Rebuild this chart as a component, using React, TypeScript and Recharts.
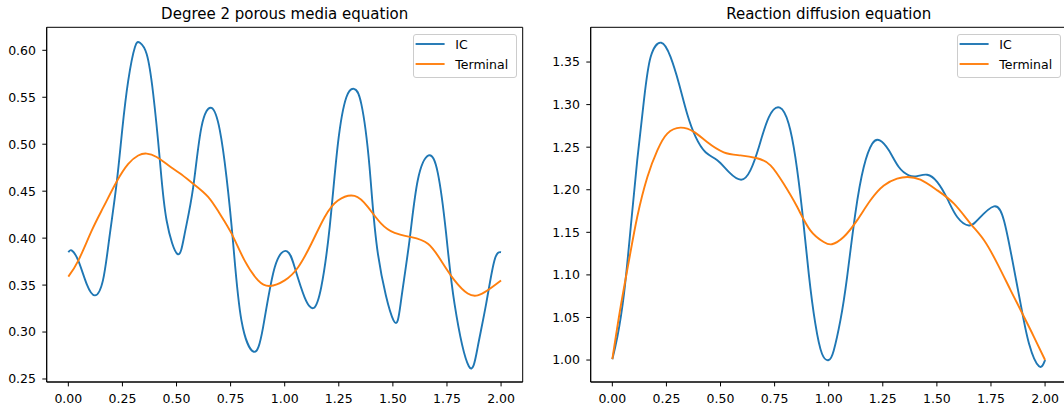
import React from "react";
import { LineChart, Line, XAxis, YAxis, ReferenceArea } from "recharts";

// values, as [x, y]
const POROUS_IC: [number, number][] = [
  [0, 0.385], [0.015, 0.387], [0.046, 0.376], [0.085, 0.351], [0.123, 0.339],
  [0.16, 0.355], [0.19, 0.401], [0.223, 0.458], [0.249, 0.515], [0.277, 0.568],
  [0.308, 0.6035], [0.331, 0.608], [0.362, 0.596], [0.392, 0.554], [0.423, 0.483],
  [0.454, 0.419], [0.505, 0.383], [0.538, 0.405], [0.577, 0.454], [0.615, 0.518],
  [0.662, 0.5386], [0.7, 0.515], [0.731, 0.465], [0.762, 0.394], [0.8, 0.3125],
  [0.857, 0.279], [0.9, 0.305], [0.954, 0.369], [1.011, 0.386], [1.046, 0.369],
  [1.092, 0.337], [1.134, 0.3256], [1.169, 0.348], [1.208, 0.412], [1.246, 0.5006],
  [1.285, 0.55], [1.32, 0.559], [1.354, 0.543], [1.392, 0.476], [1.431, 0.383],
  [1.503, 0.3125], [1.538, 0.334], [1.577, 0.398], [1.615, 0.4616], [1.665, 0.488],
  [1.708, 0.469], [1.746, 0.405], [1.785, 0.33], [1.851, 0.2636], [1.892, 0.284],
  [1.931, 0.33], [1.969, 0.376], [2.0, 0.385],
];

const POROUS_TERMINAL: [number, number][] = [
  [0, 0.359], [0.046, 0.376], [0.108, 0.408], [0.162, 0.433], [0.223, 0.46],
  [0.277, 0.479], [0.323, 0.488], [0.362, 0.49], [0.408, 0.4864], [0.462, 0.4776],
  [0.515, 0.469], [0.577, 0.458], [0.646, 0.444], [0.7, 0.426], [0.754, 0.405],
  [0.815, 0.376], [0.877, 0.355], [0.931, 0.349], [1.0, 0.355], [1.062, 0.369],
  [1.123, 0.394], [1.185, 0.4225], [1.246, 0.44], [1.323, 0.445], [1.385, 0.433],
  [1.446, 0.4154], [1.508, 0.4055], [1.585, 0.401], [1.662, 0.394], [1.723, 0.376],
  [1.785, 0.355], [1.846, 0.341], [1.892, 0.339], [1.938, 0.3445], [2.0, 0.355],
];

const REACTION_IC: [number, number][] = [
  [0, 1.001], [0.023, 1.027], [0.054, 1.078], [0.085, 1.156], [0.115, 1.2346],
  [0.146, 1.305], [0.177, 1.356], [0.226, 1.3727], [0.269, 1.356], [0.308, 1.3245],
  [0.346, 1.289], [0.385, 1.262], [0.431, 1.244], [0.485, 1.2346], [0.538, 1.221],
  [0.595, 1.2118], [0.638, 1.2228], [0.677, 1.25], [0.723, 1.285], [0.774, 1.2964],
  [0.815, 1.2776], [0.846, 1.238], [0.877, 1.176], [0.908, 1.101], [0.938, 1.043],
  [0.969, 1.0074], [1.0, 1.0], [1.023, 1.011], [1.054, 1.0466], [1.085, 1.0975],
  [1.123, 1.172], [1.162, 1.2267], [1.201, 1.254], [1.236, 1.258], [1.278, 1.2463],
  [1.324, 1.2267], [1.37, 1.217], [1.409, 1.216], [1.455, 1.2176], [1.502, 1.209],
  [1.548, 1.1895], [1.594, 1.168], [1.648, 1.158], [1.694, 1.166], [1.764, 1.1805],
  [1.81, 1.164], [1.849, 1.117], [1.887, 1.066], [1.926, 1.019], [1.972, 0.9926],
  [2.0, 1.0],
];

const REACTION_TERMINAL: [number, number][] = [
  [0, 1.001], [0.038, 1.062], [0.077, 1.117], [0.115, 1.168], [0.162, 1.215],
  [0.208, 1.2463], [0.254, 1.266], [0.315, 1.273], [0.377, 1.268], [0.438, 1.256],
  [0.515, 1.244], [0.592, 1.2404], [0.669, 1.237], [0.731, 1.2287], [0.792, 1.207],
  [0.854, 1.18], [0.915, 1.1523], [0.977, 1.1386], [1.015, 1.136], [1.069, 1.1445],
  [1.131, 1.164], [1.193, 1.1876], [1.255, 1.205], [1.316, 1.213], [1.363, 1.215],
  [1.424, 1.2118], [1.502, 1.1993], [1.579, 1.1836], [1.656, 1.16], [1.718, 1.1406],
  [1.78, 1.113], [1.841, 1.0819], [1.903, 1.0505], [1.949, 1.027], [2.0, 1.0],
];

const X_TICKS = [0, 0.25, 0.5, 0.75, 1, 1.25, 1.5, 1.75, 2];
const POROUS_Y_TICKS = [0.25, 0.3, 0.35, 0.4, 0.45, 0.5, 0.55, 0.6];
const REACTION_Y_TICKS = [1.0, 1.05, 1.1, 1.15, 1.2, 1.25, 1.3, 1.35];

const BLUE = "#1f77b4";
const ORANGE = "#ff7f0e";
const FONT = "'DejaVu Sans', sans-serif";

const toPoints = (pts: [number, number][]) => pts.map(([x, y]) => ({ x, y }));

interface PanelProps {
  left: number;
  title: string;
  ic: [number, number][];
  terminal: [number, number][];
  yDomain: [number, number];
  yTicks: number[];
}

const W = 532;
const H = 410;
const M_TOP = 27.3;
const M_RIGHT = 9.3;
const Y_W = 46.7;
const X_H = 28;

function Panel({ left, title, ic, terminal, yDomain, yTicks }: PanelProps) {
  const plotCenter = Y_W + (W - Y_W - M_RIGHT) / 2;
  const tick = { fontSize: 12.5, fill: "#000", fontFamily: FONT };
  return (
    <div style={{ position: "absolute", left, top: 0, width: W, height: H }}>
      <LineChart
        width={W}
        height={H}
        margin={{ top: M_TOP, right: M_RIGHT, bottom: 0, left: 0 }}
      >
        <XAxis
          dataKey="x"
          type="number"
          domain={[-0.1, 2.1]}
          ticks={X_TICKS}
          interval={0}
          allowDataOverflow
          height={X_H}
          tickSize={4.4}
          tickMargin={8}
          tick={tick}
          tickFormatter={(v: number) => v.toFixed(2)}
          stroke="#000"
        />
        <YAxis
          type="number"
          domain={yDomain}
          ticks={yTicks}
          interval={0}
          allowDataOverflow
          width={Y_W}
          tickSize={4.4}
          tickMargin={6.3}
          tick={tick}
          tickFormatter={(v: number) => v.toFixed(2)}
          stroke="#000"
        />
        <ReferenceArea
          x1={-0.1}
          x2={2.1}
          y1={yDomain[0]}
          y2={yDomain[1]}
          fill="none"
          stroke="#000"
          strokeWidth={1}
          ifOverflow="visible"
        />
        <Line
          data={toPoints(ic)}
          dataKey="y"
          type="natural"
          stroke={BLUE}
          strokeWidth={1.9}
          dot={false}
          activeDot={false}
          isAnimationActive={false}
        />
        <Line
          data={toPoints(terminal)}
          dataKey="y"
          type="natural"
          stroke={ORANGE}
          strokeWidth={1.9}
          dot={false}
          activeDot={false}
          isAnimationActive={false}
        />
      </LineChart>
      <svg
        width={W}
        height={30}
        style={{ position: "absolute", left: 0, top: 0, overflow: "visible" }}
      >
        <text
          x={plotCenter}
          y={19.3}
          textAnchor="middle"
          fontSize={15}
          fontFamily={FONT}
          fill="#000"
        >
          {title}
        </text>
      </svg>
      {/* legend, upper right like matplotlib */}
      <svg
        width={105}
        height={45}
        style={{ position: "absolute", left: W - M_RIGHT - 110, top: 34.3 }}
      >
        <rect
          x={0.5}
          y={0.5}
          width={103}
          height={43}
          rx={2.5}
          fill="#fff"
          fillOpacity={0.8}
          stroke="#cccccc"
        />
        <line x1={2.6} x2={31.6} y1={10} y2={10} stroke={BLUE} strokeWidth={1.9} />
        <line x1={2.6} x2={31.6} y1={30} y2={30} stroke={ORANGE} strokeWidth={1.9} />
        <text x={42.3} y={14.5} fontSize={12.5} fontFamily={FONT} fill="#000">
          IC
        </text>
        <text x={42.3} y={34.5} fontSize={12.5} fontFamily={FONT} fill="#000">
          Terminal
        </text>
      </svg>
    </div>
  );
}

export default function App() {
  return (
    <div
      style={{
        position: "absolute",
        left: 0,
        top: 0,
        width: 1064,
        height: 410,
        overflow: "hidden",
        background: "#fff",
      }}
    >
      <Panel
        left={0}
        title="Degree 2 porous media equation"
        ic={POROUS_IC}
        terminal={POROUS_TERMINAL}
        yDomain={[0.2468, 0.6245]}
        yTicks={POROUS_Y_TICKS}
      />
      <Panel
        left={544}
        title="Reaction diffusion equation"
        ic={REACTION_IC}
        terminal={REACTION_TERMINAL}
        yDomain={[0.9742, 1.3908]}
        yTicks={REACTION_Y_TICKS}
      />
    </div>
  );
}
